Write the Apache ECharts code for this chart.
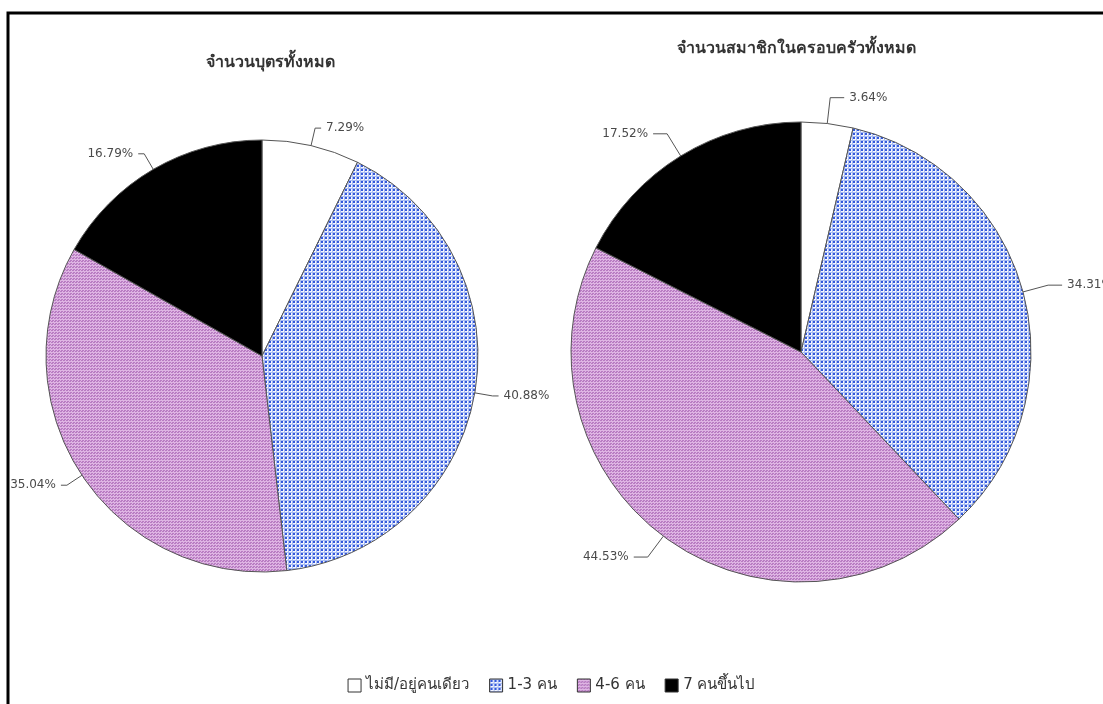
<!DOCTYPE html>
<html>
<head>
<meta charset="utf-8">
<script src="https://cdn.jsdelivr.net/npm/echarts@6/dist/echarts.min.js"></script>
<style>
html,body{margin:0;padding:0;background:#fff;}
#chart{width:1103px;height:704px;}
</style>
</head>
<body>
<div id="chart"></div>
<script>
const categories = ['ไม่มี/อยู่คนเดียว', '1-3 คน', '4-6 คน', '7 คนขึ้นไป'];
const titles = ['จำนวนบุตรทั้งหมด', 'จำนวนสมาชิกในครอบครัวทั้งหมด'];
const childrenValues = [7.29, 40.88, 35.04, 16.79];
const familyValues = [3.64, 34.31, 44.53, 17.52];

function makePattern(w, h, draw) {
  const c = document.createElement('canvas');
  c.width = w; c.height = h;
  const ctx = c.getContext('2d');
  draw(ctx);
  return { image: c, repeat: 'repeat' };
}
const bluePattern = makePattern(4, 4, ctx => {
  ctx.fillStyle = '#f4f6ff'; ctx.fillRect(0, 0, 4, 4);
  ctx.fillStyle = '#a9bcf2'; ctx.fillRect(0, 0, 4, 1); ctx.fillRect(0, 0, 1, 4);
  ctx.fillStyle = '#3358dc'; ctx.fillRect(1, 1, 2, 2);
});
const pinkPattern = makePattern(3, 3, ctx => {
  ctx.fillStyle = '#deb4e3'; ctx.fillRect(0, 0, 3, 3);
  ctx.fillStyle = '#b87cc2'; ctx.fillRect(0, 0, 2, 1); ctx.fillRect(1, 2, 2, 1);
});
const colors = ['#ffffff', bluePattern, pinkPattern, '#000000'];

function buildData(values) {
  return values.map((v, i) => ({ name: categories[i], value: v, itemStyle: { color: colors[i] } }));
}

const labelCommon = {
  show: true, position: 'outside', color: '#4a4a4a', fontSize: 12,
  fontFamily: 'DejaVu Sans, sans-serif', overflow: 'none',
  formatter: p => p.value.toFixed(2) + '%'
};

const chart = echarts.init(document.getElementById('chart'));
chart.setOption({
  animation: false,
  backgroundColor: '#fff',
  title: [
    { text: titles[0], left: 265, top: 50, textAlign: 'center',
      textStyle: { fontSize: 16, fontWeight: 'bold', color: '#333' } },
    { text: titles[1], left: 791, top: 36, textAlign: 'center',
      textStyle: { fontSize: 16, fontWeight: 'bold', color: '#333' } }
  ],
  legend: {
    bottom: 6, left: 'center', icon: 'rect', itemWidth: 13, itemHeight: 13, itemGap: 20,
    textStyle: { fontSize: 15, color: '#333', fontFamily: 'DejaVu Sans, sans-serif' },
    data: categories,
    itemStyle: { borderColor: '#333', borderWidth: 1 }
  },
  graphic: [{
    type: 'rect', shape: { x: 8, y: 13, width: 1200, height: 800 },
    style: { fill: 'none', stroke: '#000', lineWidth: 3 }, silent: true, z: 100
  }],
  series: [
    {
      type: 'pie', center: [262, 356], radius: 216, startAngle: 90, clockwise: true,
      avoidLabelOverlap: false,
      data: buildData(childrenValues),
      itemStyle: { borderColor: '#555', borderWidth: 1 },
      label: labelCommon,
      labelLine: { show: true, length: 18, length2: 6, lineStyle: { color: '#555', width: 1 } }
    },
    {
      type: 'pie', center: [801, 352], radius: 230, startAngle: 90, clockwise: true,
      avoidLabelOverlap: false,
      data: buildData(familyValues),
      itemStyle: { borderColor: '#555', borderWidth: 1 },
      label: labelCommon,
      labelLine: { show: true, length: 26, length2: 14, lineStyle: { color: '#555', width: 1 } }
    }
  ]
});
</script>
</body>
</html>
